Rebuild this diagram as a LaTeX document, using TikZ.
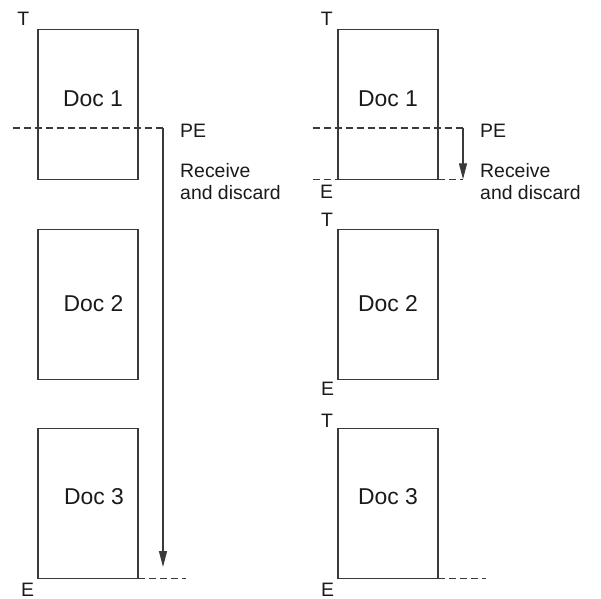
\documentclass[tikz,border=0pt]{standalone}
\usepackage{fontspec}
\setmainfont{Liberation Sans}
\usetikzlibrary{arrows.meta}
\definecolor{linec}{HTML}{3A3A3A}
\definecolor{textc}{HTML}{1A1A1A}
\tikzset{
  docbox/.style={draw=linec, line width=1.3bp, minimum width=100bp, minimum height=150bp, inner sep=0pt, outer sep=0pt, anchor=north west},
  doctext/.style={text=textc, inner sep=0pt, font=\fontsize{23}{27}\selectfont},
  lbl/.style={text=textc, inner sep=0pt, font=\fontsize{19.5}{22}\selectfont},
  dashline/.style={draw=linec, line width=1.2bp, dash pattern=on 7bp off 4bp},
  arrline/.style={draw=linec, line width=1.3bp, -{Triangle[length=16bp,width=8bp]}}
}
\begin{document}
\begin{tikzpicture}[x=1bp,y=-1bp]
\useasboundingbox (0,0) rectangle (601,599);
% left column
\node[docbox] (d1L) at (38,29.3) {};
\node[docbox] (d2L) at (38,229.3) {};
\node[docbox] (d3L) at (38,428.8) {};
\node[doctext] (t1L) at (93,99) {Doc 1};
\node[doctext] (t2L) at (93.5,304) {Doc 2};
\node[doctext] (t3L) at (94,497) {Doc 3};
\node[lbl] (TL) at (23.3,18.5) {T};
\node[lbl] (EL) at (27.5,589.5) {E};
\coordinate (peLa) at (12.7,128);
\coordinate (peLb) at (163,128);
\coordinate (arrL) at (163,567);
\coordinate (botL) at (186,500);
\draw[dashline] (peLa) -- (peLb);
\draw[arrline] (peLb) -- (arrL);
\draw[dashline] (d3L.south east) -- (botL |- d3L.south east);
\node[lbl, anchor=west] (peLt) at (180,131) {PE};
\node[lbl, anchor=north west, align=left] (rdL) at (180,163) {Receive\\and discard};
% right column
\node[docbox] (d1R) at (338,29.3) {};
\node[docbox] (d2R) at (338,229.3) {};
\node[docbox] (d3R) at (338,428.8) {};
\node[doctext] (t1R) at (388,98.5) {Doc 1};
\node[doctext] (t2R) at (388,303.5) {Doc 2};
\node[doctext] (t3R) at (388,497) {Doc 3};
\node[lbl] (TR1) at (326.7,18.7) {T};
\node[lbl] (ER1) at (326.7,191.5) {E};
\node[lbl] (TR2) at (327,220) {T};
\node[lbl] (ER2) at (327.5,389) {E};
\node[lbl] (TR3) at (327,421) {T};
\node[lbl] (ER3) at (327.5,589.5) {E};
\coordinate (peRa) at (312.7,128);
\coordinate (peRb) at (463,128);
\coordinate (eRa) at (312.7,100);
\coordinate (botR) at (486,500);
\draw[dashline] (peRa) -- (peRb);
\draw[arrline] (peRb) -- (peRb |- d1R.south);
\draw[dashline] (eRa |- d1R.south west) -- (d1R.south west);
\draw[dashline] (d1R.south east) -- (peRb |- d1R.south east);
\draw[dashline] (d3R.south east) -- (botR |- d3R.south east);
\node[lbl, anchor=west] (peRt) at (480,131) {PE};
\node[lbl, anchor=north west, align=left] (rdR) at (480,163) {Receive\\and discard};
\end{tikzpicture}
\end{document}
